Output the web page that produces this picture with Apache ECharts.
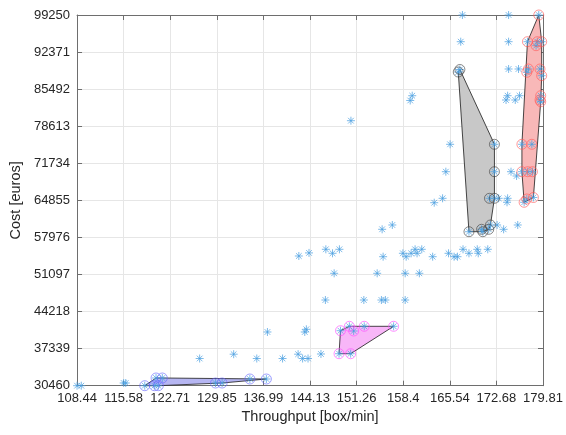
<!DOCTYPE html>
<html><head><meta charset="utf-8">
<script src="https://cdn.jsdelivr.net/npm/echarts@6/dist/echarts.min.js"></script>
<style>html,body{margin:0;padding:0;background:#fff}#c{width:566px;height:435px}</style>
</head><body><div id="c"></div>
<script>
const xTicks = [108.44,115.58,122.71,129.85,136.99,144.13,151.26,158.4,165.54,172.68,179.81];
const yTicks = [30460,37339,44218,51097,57976,64855,71734,78613,85492,92371,99250];

// all designs (blue asterisks) not inside a cluster
const otherPoints = [
 [108.44,30460],[109.09,30460],[115.58,30961],[115.90,30961],
 [127.22,35507],[132.43,36306],[135.97,35507],[137.60,40425],[139.92,35507],
 [142.30,36306],[142.99,35507],[143.82,35507],[143.32,40425],[143.56,40926],
 [145.80,36343],[146.48,46363],[142.41,54529],[143.97,55100],
 [152.37,46363],[155.06,46363],[155.67,46363],[158.70,46363],
 [147.82,51318],[154.41,51318],[158.70,51318],[160.87,51318],
 [146.55,55772],[147.57,55029],[148.63,55772],[155.32,54399],[158.35,55029],
 [158.85,54399],[159.61,55029],[160.22,55772],[160.52,55029],[161.24,55772],
 [162.91,54399],[165.34,55029],[166.19,54399],[166.71,54399],[167.56,55772],
 [168.47,55029],[169.74,55772],[169.89,55029],[171.35,55772],
 [155.17,59483],[156.73,60281],[163.15,64419],[164.43,65235],
 [172.78,60281],[173.78,59483],[175.94,60281],
 [164.93,70172],[165.58,75256],[173.02,65235],[174.39,65235],[174.30,64494],
 [174.91,70172],[175.76,69374],[150.39,79636],[159.78,84275],[159.47,83385],
 [174.39,84275],[174.15,83477],[176.21,84275],[175.56,83477],
 [174.54,89230],[176.06,89230],[167.21,94296],[174.54,94296],
 [167.47,99250],[174.54,99250]
];
const dm1Points = [
 [118.81,30460],[120.28,30460],[120.89,30460],[120.54,31889],[121.50,31889],
 [129.65,30961],[130.66,30961],[134.91,31703],[137.44,31703]
];
const dm2Points = [
 [167.08,89137],[166.83,88673],[172.37,75256],[172.37,70172],[171.61,65235],
 [172.37,65235],[171.76,60281],[171.50,59483],[170.40,59483],[170.59,59038],[168.47,59038]
];
const dm3Points = [
 [179.16,99250],[177.43,94296],[178.94,94296],[179.61,94296],[178.75,93553],
 [177.58,89230],[177.33,88617],[179.35,89230],[179.61,87986],[179.46,84275],
 [179.35,83477],[179.46,83162],[176.58,75256],[178.10,75256],[176.58,70172],
 [177.46,70172],[178.19,70172],[176.92,64494],[177.33,65106],[178.34,65384]
];
const dm4Points = [
 [148.57,36398],[150.35,36398],[148.79,40666],[150.15,41483],[150.81,40611],
 [152.43,41483],[156.93,41483]
];
const dmNames = ['DM1','DM2','DM3','DM4'];
const dmLabelPos = [[124.08,35229],[163.56,79024],[173.89,96096],[145.95,43023]];

function convexHull(pts) {
  const p = pts.slice().sort((a,b)=>a[0]-b[0]||a[1]-b[1]);
  const cross=(o,a,b)=>(a[0]-o[0])*(b[1]-o[1])-(a[1]-o[1])*(b[0]-o[0]);
  const lower=[],upper=[];
  for (const q of p){while(lower.length>=2&&cross(lower[lower.length-2],lower[lower.length-1],q)<=0)lower.pop();lower.push(q);}
  for (let i=p.length-1;i>=0;i--){const q=p[i];while(upper.length>=2&&cross(upper[upper.length-2],upper[upper.length-1],q)<=0)upper.pop();upper.push(q);}
  upper.pop();lower.pop();return lower.concat(upper);
}
function hullSeries(points, fill) {
  const hull = convexHull(points);
  return {type:'custom', coordinateSystem:'cartesian2d', xAxisIndex:0, yAxisIndex:0, data:[hull[0]], z:1, silent:true,
    renderItem:(params, api)=>({type:'polygon', shape:{points: hull.map(p=>api.coord(p))},
      style:{fill:fill, stroke:'#1a1a1a', lineWidth:0.8}})};
}
const starPath = 'path://M5,0L5,10M0,5L10,5M1.46,1.46L8.54,8.54M8.54,1.46L1.46,8.54';
const allPts = otherPoints.concat(dm1Points, dm2Points, dm3Points, dm4Points);
function circleSeries(points, color){
  return {type:'scatter', data:points, symbol:'circle', symbolSize:10, z:4, silent:true,
    itemStyle:{color:'rgba(0,0,0,0)', borderColor:color, borderWidth:0.8}};
}
const font = 'Liberation Sans, Arial, Helvetica, sans-serif';
const chart = echarts.init(document.getElementById('c'), null, {renderer:'canvas'});
chart.setOption({
  animation:false,
  backgroundColor:'#ffffff',
  grid:{left:73, right:23, top:15, bottom:49.3, containLabel:false},
  xAxis:[{
    type:'value', min:108.44, max:179.81, position:'bottom',
    name:'Throughput [box/min]', nameLocation:'middle', nameGap:24,
    nameTextStyle:{fontFamily:font, fontSize:14.5, color:'#262626'},
    axisLine:{show:true, onZero:false, lineStyle:{color:'#6e6e6e', width:1}},
    axisTick:{show:true, inside:true, length:5, customValues:xTicks, lineStyle:{color:'#6e6e6e'}},
    axisLabel:{customValues:xTicks, margin:6, fontFamily:font, fontSize:13, color:'#262626', formatter:v=>String(v)},
    splitLine:{show:true, lineStyle:{color:'#e6e6e6', width:1}}
  },{
    type:'value', min:108.44, max:179.81, position:'top',
    axisLine:{show:true, onZero:false, lineStyle:{color:'#6e6e6e', width:1}},
    axisTick:{show:true, inside:true, length:5, customValues:xTicks, lineStyle:{color:'#6e6e6e'}},
    axisLabel:{show:false}, splitLine:{show:false}
  }],
  yAxis:[{
    type:'value', min:30460, max:99250, position:'left',
    name:'Cost [euros]', nameLocation:'middle', nameGap:53, nameRotate:90,
    nameTextStyle:{fontFamily:font, fontSize:14.5, color:'#262626'},
    axisLine:{show:true, onZero:false, lineStyle:{color:'#6e6e6e', width:1}},
    axisTick:{show:true, inside:true, length:5, customValues:yTicks, lineStyle:{color:'#6e6e6e'}},
    axisLabel:{customValues:yTicks, margin:7, fontFamily:font, fontSize:13, color:'#262626', formatter:v=>String(v)},
    splitLine:{show:true, lineStyle:{color:'#e6e6e6', width:1}}
  },{
    type:'value', min:30460, max:99250, position:'right',
    axisLine:{show:true, onZero:false, lineStyle:{color:'#6e6e6e', width:1}},
    axisTick:{show:true, inside:true, length:5, customValues:yTicks, lineStyle:{color:'#6e6e6e'}},
    axisLabel:{show:false}, splitLine:{show:false}
  }],
  series:[
    hullSeries(dm1Points,'#b6b6f2'),
    hullSeries(dm2Points,'#c8c8c8'),
    hullSeries(dm3Points,'#f8b8b8'),
    hullSeries(dm4Points,'#f8b6f8'),
    {type:'scatter', data:allPts, symbol:starPath, symbolSize:8, z:3, silent:true,
      itemStyle:{color:'rgba(0,0,0,0)', borderColor:'#4a9fe0', borderWidth:0.9}},
    circleSeries(dm1Points,'#6a6aff'),
    circleSeries(dm2Points,'#444444'),
    circleSeries(dm3Points,'#ff5c5c'),
    circleSeries(dm4Points,'#ff4dff'),
    {type:'scatter', data:dmLabelPos.map((p,i)=>({value:p, name:dmNames[i]})), symbol:'none', z:6, silent:true,
      label:{show:true, position:'inside', formatter:'{b}', fontFamily:font, fontSize:15.5, color:'#000'}}
  ]
});
</script></body></html>
